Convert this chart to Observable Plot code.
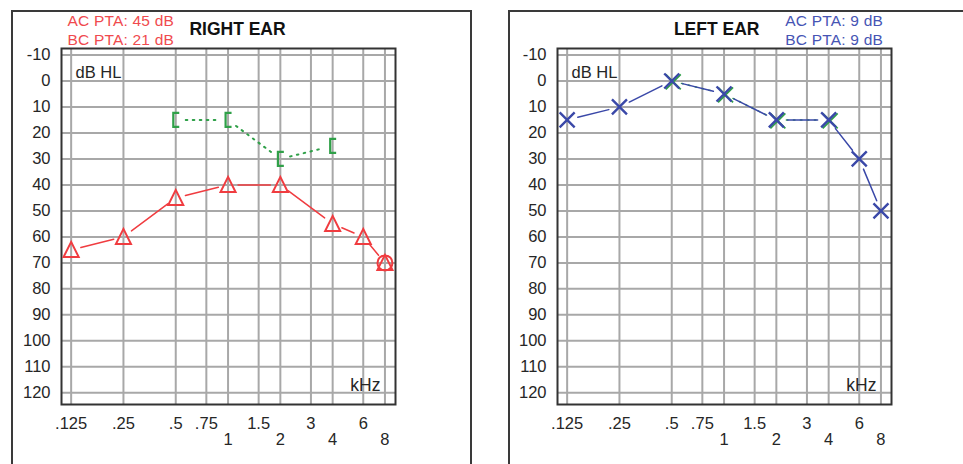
<!DOCTYPE html>
<html><head><meta charset="utf-8">
<script src="https://cdn.jsdelivr.net/npm/d3@7"></script>
<script src="https://cdn.jsdelivr.net/npm/@observablehq/plot@0.6"></script>
<style>
html,body{margin:0;padding:0;background:#fff;}
#wrap{position:relative;width:963px;height:464px;overflow:hidden;font-family:"Liberation Sans",Arial,sans-serif;background:#fff;}
.box{position:absolute;border:2px solid #3a3a3a;box-sizing:border-box;}
.t{position:absolute;white-space:nowrap;line-height:1;}
.plotholder{position:absolute;top:0;}
</style></head><body><div id="wrap"></div>
<script>
// ---- data ----
const acFreqs = [0.125, 0.25, 0.5, 1, 2, 4, 6, 8];
const rightAC = [65, 60, 45, 40, 40, 55, 60, 70];
const bcFreqs = [0.5, 1, 2, 4];
const rightBC = [15, 15, 30, 25];
const rightExtraFreqs = [8];
const rightExtra = [70];
const leftAC = [15, 10, 0, 5, 15, 15, 30, 50];
const leftBC = [0, 5, 15, 15];
const gridFreqs = [0.125, 0.25, 0.5, 0.75, 1, 1.5, 2, 3, 4, 6, 8];
const gridDb = [-10, 0, 10, 20, 30, 40, 50, 60, 70, 80, 90, 100, 110, 120];
const dbLabels = ["-10", "0", "10", "20", "30", "40", "50", "60", "70", "80", "90", "100", "110", "120"];
const topTicks = [0.125, 0.25, 0.5, 0.75, 1.5, 3, 6];
const topLabels = [".125", ".25", ".5", ".75", "1.5", "3", "6"];
const bottomTicks = [1, 2, 4, 8];
const bottomLabels = ["1", "2", "4", "8"];
const rightTitle = "RIGHT EAR", leftTitle = "LEFT EAR";
const rightPTA = ["AC PTA: 45 dB", "BC PTA: 21 dB"];
const leftPTA = ["AC PTA: 9 dB", "BC PTA: 9 dB"];

// ---- colours ----
const RED = "#f03c40", GREEN = "#2fa048", BLUE = "#3a48a8";
const FONT = '"Liberation Sans", Arial, sans-serif';
const INK = "#262626";

// ---- custom symbols ----
const triUp = {draw(c, s){const r=Math.sqrt(s/Math.PI);c.moveTo(0,-r);c.lineTo(r*0.94,r*0.88);c.lineTo(-r*0.94,r*0.88);c.closePath();}};
const cross = {draw(c, s){const r=Math.sqrt(s/Math.PI);c.moveTo(-r,-r);c.lineTo(r,r);c.moveTo(-r,r);c.lineTo(r,-r);}};
const bracket = {draw(c, s){const r=Math.sqrt(s/Math.PI);c.moveTo(r*0.5,-r);c.lineTo(-r*0.35,-r);c.lineTo(-r*0.35,r);c.lineTo(r*0.5,r);}};

const pts = (fs, vs) => fs.map((f, i) => ({f, db: vs[i]}));
const segs = (p) => d3.pairs(p).map(([a, b]) => ({f1: a.f, d1: a.db, f2: b.f, d2: b.db}));

function audiogram(extraMarks, width, marginRight) {
  return Plot.plot({
    width, height: 464,
    marginLeft: 61, marginRight, marginTop: 48, marginBottom: 60,
    style: {background: "transparent", fontFamily: FONT, fontSize: "16px", color: INK},
    x: {type: "log", domain: [0.11, 9.2], axis: null},
    y: {domain: [-12.5, 124.5], reverse: true, axis: null},
    marks: [
      Plot.ruleX(gridFreqs, {stroke: "#a8a8a8", strokeWidth: 2}),
      Plot.ruleY(gridDb, {stroke: "#a8a8a8", strokeWidth: 2}),
      Plot.frame({stroke: "#333", strokeWidth: 2}),
      // y tick labels
      Plot.text(gridDb, {y: (d) => d, text: (d, i) => dbLabels[i], frameAnchor: "left", dx: -11, textAnchor: "end", lineAnchor: "middle", fontSize: 16.5, fill: INK}),
      // x tick labels, two rows
      Plot.text(topTicks, {x: (d) => d, text: (d, i) => topLabels[i], frameAnchor: "bottom", dy: 19, lineAnchor: "middle", fontSize: 16.5, fill: INK}),
      Plot.text(bottomTicks, {x: (d) => d, text: (d, i) => bottomLabels[i], frameAnchor: "bottom", dy: 35, lineAnchor: "middle", fontSize: 16.5, fill: INK}),
      Plot.text(["dB HL"], {frameAnchor: "top-left", dx: 14, dy: 24, textAnchor: "start", lineAnchor: "middle", fontSize: 16.5, fill: INK}),
      Plot.text(["kHz"], {frameAnchor: "bottom-right", dx: -15, dy: -19, textAnchor: "end", lineAnchor: "middle", fontSize: 17.5, fill: INK}),
      ...extraMarks
    ]
  });
}

const rAC = pts(acFreqs, rightAC), rBC = pts(bcFreqs, rightBC), rEx = pts(rightExtraFreqs, rightExtra);
const lAC = pts(acFreqs, leftAC), lBC = pts(bcFreqs, leftBC);

const rightMarks = [
  Plot.arrow(segs(rBC), {x1: "f1", y1: "d1", x2: "f2", y2: "d2", headLength: 0, insetStart: 10, insetEnd: 10, stroke: GREEN, strokeWidth: 2, strokeDasharray: "1.6,5.4"}),
  Plot.dot(rBC, {x: "f", y: "db", symbol: bracket, r: 7, fill: "none", stroke: GREEN, strokeWidth: 2.2}),
  Plot.arrow(segs(rAC), {x1: "f1", y1: "d1", x2: "f2", y2: "d2", headLength: 0, insetStart: 10, insetEnd: 10, stroke: RED, strokeWidth: 1.5}),
  Plot.dot(rEx, {x: "f", y: "db", r: 7.5, fill: "none", stroke: RED, strokeWidth: 2}),
  Plot.dot(rAC, {x: "f", y: "db", symbol: triUp, r: 8, fill: "none", stroke: RED, strokeWidth: 2})
];
const leftMarks = [
  Plot.arrow(segs(lBC), {x1: "f1", y1: "d1", x2: "f2", y2: "d2", headLength: 0, insetStart: 10, insetEnd: 10, stroke: GREEN, strokeWidth: 1.5, strokeDasharray: "1.6,5.4"}),
  Plot.dot(lBC, {x: "f", y: "db", symbol: cross, r: 7.5, dx: 1.5, dy: 1, fill: "none", stroke: GREEN, strokeWidth: 1.8}),
  Plot.arrow(segs(lAC), {x1: "f1", y1: "d1", x2: "f2", y2: "d2", headLength: 0, insetStart: 11, insetEnd: 11, stroke: BLUE, strokeWidth: 1.5}),
  Plot.dot(lAC, {x: "f", y: "db", symbol: cross, r: 7.5, fill: "none", stroke: BLUE, strokeWidth: 2.4})
];

const wrap = document.getElementById("wrap");
function addBox(left, top, w, h) {
  const d = document.createElement("div"); d.className = "box";
  Object.assign(d.style, {left: left + "px", top: top + "px", width: w + "px", height: h + "px"});
  wrap.appendChild(d);
}
function addText(txt, x, y, align, opts) {
  const d = document.createElement("div"); d.className = "t"; d.textContent = txt;
  const tx = align === "center" ? "-50%" : align === "end" ? "-100%" : "0";
  Object.assign(d.style, {left: x + "px", top: y + "px", transform: `translate(${tx},-50%)`}, opts);
  wrap.appendChild(d);
}
function addPlot(svg, left) {
  const h = document.createElement("div"); h.className = "plotholder"; h.style.left = left + "px";
  h.appendChild(svg); wrap.appendChild(h);
}

addBox(11, 10, 461, 480);
addBox(508, 10, 520, 480);
addPlot(audiogram(rightMarks, 480, 85), 0);
addPlot(audiogram(leftMarks, 467, 72), 496);

const titleStyle = {fontWeight: "bold", fontSize: "17.5px", color: "#111"};
addText(rightTitle, 237.5, 30, "center", titleStyle);
addText(leftTitle, 716.7, 30, "center", titleStyle);
const redText = {fontSize: "15.5px", color: "#f04a4e", letterSpacing: "0.2px"};
addText(rightPTA[0], 174, 21, "end", redText);
addText(rightPTA[1], 174, 40, "end", redText);
const blueText = {fontSize: "15.5px", color: "#4654b4", letterSpacing: "0.2px"};
addText(leftPTA[0], 883, 21, "end", blueText);
addText(leftPTA[1], 883, 40, "end", blueText);
</script></body></html>
